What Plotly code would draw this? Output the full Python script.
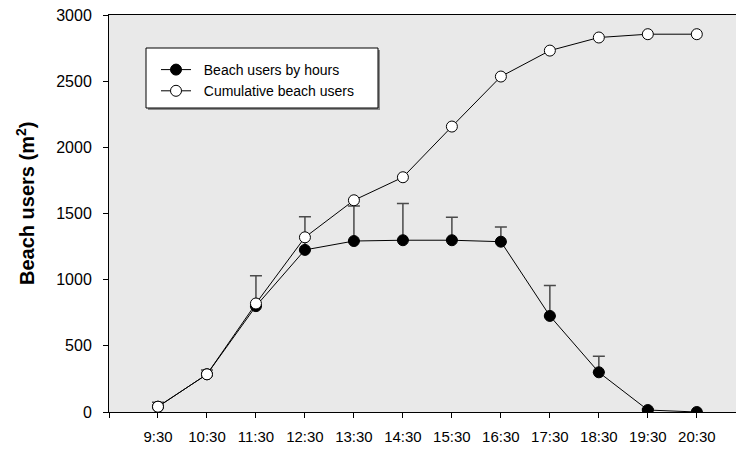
import plotly.graph_objects as go

# Hourly counts of beach users and the running total over the day
hours = ["9:30", "10:30", "11:30", "12:30", "13:30", "14:30",
         "15:30", "16:30", "17:30", "18:30", "19:30", "20:30"]
users_by_hour = [40, 285, 800, 1225, 1292, 1298, 1298, 1287, 726, 300, 15, 0]
users_by_hour_err = [33, 32, 230, 250, 265, 277, 173, 111, 229, 121, 10, 0]
cumulative_users = [40, 285, 820, 1320, 1600, 1774, 2157, 2535, 2731, 2830, 2855, 2855]
y_ticks = [0, 500, 1000, 1500, 2000, 2500, 3000]

x_pos = list(range(len(hours)))
FONT = "Liberation Sans, Arial, sans-serif"
GAP = "\u00a0\u00a0"  # small gap between legend symbol and label

W, H = 736, 449
L, R, T, B = 109, 0, 15, 37
plot_w, plot_h = W - L - R, H - T - B


def px_to_paper(x, y):
    return (x - L) / plot_w, (H - B - y) / plot_h


fig = go.Figure()

fig.add_trace(go.Scatter(
    x=x_pos, y=users_by_hour, name=GAP + "Beach users by hours",
    mode="lines+markers",
    line=dict(color="black", width=1),
    marker=dict(symbol="circle", size=11, color="black",
                line=dict(color="black", width=1)),
    error_y=dict(type="data", symmetric=False,
                 array=users_by_hour_err, arrayminus=[0] * len(hours),
                 color="#4a4a4a", thickness=1.5, width=6),
))

fig.add_trace(go.Scatter(
    x=x_pos, y=cumulative_users, name=GAP + "Cumulative beach users",
    mode="lines+markers",
    line=dict(color="black", width=1),
    marker=dict(symbol="circle", size=11, color="white",
                line=dict(color="black", width=1)),
))

# Legend frame with a light drop shadow
x0, y0 = px_to_paper(146, 48)
x1, y1 = px_to_paper(378, 108)
sx0, sy0 = px_to_paper(148, 50)
sx1, sy1 = px_to_paper(380, 110)
fig.add_shape(type="rect", xref="paper", yref="paper",
              x0=sx0, y0=sy0, x1=sx1, y1=sy1,
              fillcolor="#8a8a8a", line=dict(width=0), layer="below")
fig.add_shape(type="rect", xref="paper", yref="paper",
              x0=x0, y0=y0, x1=x1, y1=y1,
              fillcolor="white", line=dict(color="black", width=1), layer="below")

# Y-axis title placed as a rotated annotation
tx, ty = px_to_paper(25, 204)
fig.add_annotation(text="<b>Beach users (m<sup>2</sup>)</b>",
                   xref="paper", yref="paper", x=tx, y=ty,
                   xanchor="center", yanchor="middle", textangle=-90,
                   showarrow=False, font=dict(size=20, family=FONT))

lx, ly = px_to_paper(156, 54)

fig.update_layout(
    width=W, height=H,
    margin=dict(l=L, r=R, t=T, b=B, pad=0),
    paper_bgcolor="white",
    plot_bgcolor="#e9e9e9",
    font=dict(family=FONT, color="black"),
    showlegend=True,
    legend=dict(x=lx, y=ly, xanchor="left", yanchor="top",
                bgcolor="rgba(0,0,0,0)", borderwidth=0,
                font=dict(size=14, family=FONT), tracegroupgap=0,
                itemwidth=30),
    xaxis=dict(
        range=[-1, 11.8],
        tickmode="array",
        tickvals=[-1] + x_pos, ticktext=[""] + hours,
        ticks="outside", ticklen=5, tickcolor="black", tickwidth=1,
        tickfont=dict(size=15, family=FONT), ticklabelstandoff=6,
        showline=True, linecolor="black", linewidth=1, mirror=True,
        showgrid=False, zeroline=False,
    ),
    yaxis=dict(
        range=[0, 3000],
        tickmode="array", tickvals=y_ticks,
        ticks="outside", ticklen=5, tickcolor="black", tickwidth=1,
        tickfont=dict(size=16, family=FONT), ticklabelstandoff=8,
        showline=True, linecolor="black", linewidth=1,
        showgrid=False, zeroline=False,
    ),
)

fig.write_html("out.html")
